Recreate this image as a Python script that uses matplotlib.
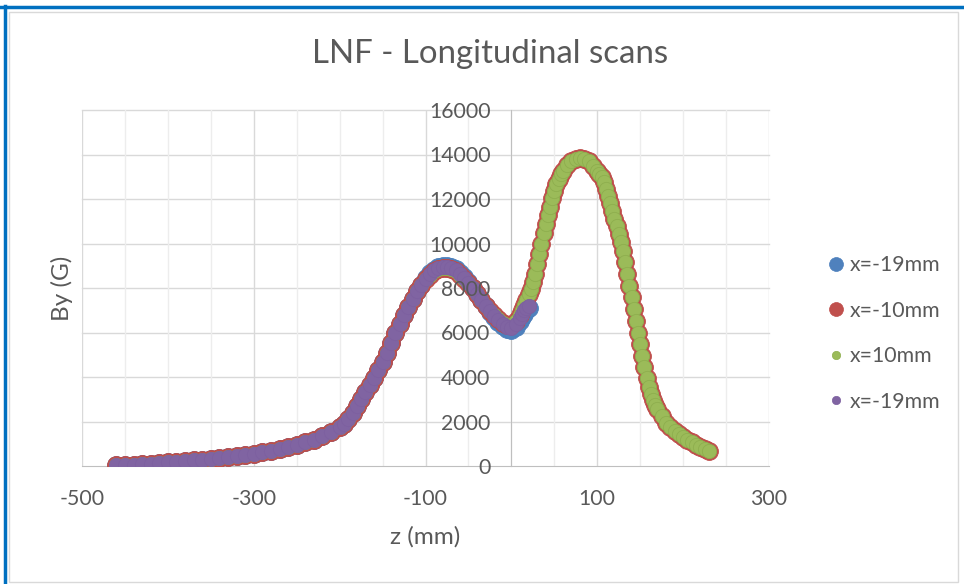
import matplotlib
matplotlib.use('Agg')
import matplotlib.pyplot as plt
from matplotlib.ticker import FixedLocator, MultipleLocator
from matplotlib.lines import Line2D

plt.rcParams['font.family'] = ['Lato', 'DejaVu Sans']
plt.rcParams['axes.unicode_minus'] = False

# scan positions (mm)
z_long = [-460, -450, -440, -430, -420, -410, -400, -390, -380, -370, -360, -350, -340, -330,
          -320, -310, -300, -290, -280, -270, -260, -250, -240, -230, -220, -210, -200,
          -195, -190, -185, -180, -175, -170, -165, -160, -155, -150, -145, -140, -135, -130,
          -125, -120, -115, -110, -105, -100, -95, -90, -85, -80, -75, -70, -65, -60, -55,
          -50, -45, -40, -35, -30, -25, -20, -15, -10, -5, 0, 5, 10,
          12.5, 15, 17.5, 20, 22.5, 25, 27.5, 30, 32.5, 35, 37.5, 40, 42.5, 45, 47.5, 50,
          52.5, 55, 57.5, 60,
          65, 70, 75, 80, 85, 90, 95, 100,
          102.5, 105, 107.5, 110, 112.5, 115, 117.5, 120, 122.5, 125, 127.5, 130, 132.5, 135,
          137.5, 140, 142.5, 145, 147.5, 150, 152.5, 155, 157.5, 160, 162.5, 165, 167.5, 170,
          175, 180, 185, 190, 195, 200, 205, 210, 215, 220, 225, 230]

z_short = [-460, -450, -440, -430, -420, -410, -400, -390, -380, -370, -360, -350, -340, -330,
           -320, -310, -300, -290, -280, -270, -260, -250, -240, -230, -220, -210, -200,
           -195, -190, -185, -180, -175, -170, -165, -160, -155, -150, -145, -140, -135, -130,
           -125, -120, -115, -110, -105, -100, -95, -90, -85, -80, -75, -70, -65, -60, -55,
           -50, -45, -40, -35, -30, -25, -20, -15, -10, -5, 0, 5, 10,
           12.5, 15, 17.5, 20]

# By (G)
by_xm10 = [30, 45, 60, 80, 100, 130, 165, 190, 220, 250, 280, 315, 350, 390,
           440, 490, 540, 610, 680, 760, 850, 940, 1060, 1190, 1350, 1540, 1770,
           1910, 2110, 2390, 2690, 3000, 3310, 3620, 3940, 4300, 4680, 5090, 5540, 6000, 6400,
           6780, 7150, 7500, 7860, 8150, 8400, 8600, 8760, 8860, 8920, 8920, 8860, 8760, 8600, 8420,
           8210, 8000, 7730, 7460, 7200, 6980, 6780, 6600, 6440, 6320, 6330, 6500, 6800,
           7000, 7220, 7470, 7720, 7950, 8250, 8650, 9080, 9540, 10000, 10450, 10880, 11280, 11660,
           12040, 12380, 12680, 12920, 13110, 13280,
           13540, 13720, 13820, 13850, 13820, 13700, 13500, 13250,
           13130, 13000, 12750, 12460, 12130, 11800, 11460, 11120, 10770, 10420, 10070, 9650,
           9180, 8650, 8110, 7580, 7050, 6520, 6000, 5480, 4960, 4430, 3950, 3560, 3240, 2980,
           2760, 2560,
           2230, 1950, 1740, 1570, 1440, 1320, 1190, 1070, 950, 850, 750, 660]

by_x10 = [30, 45, 60, 80, 100, 130, 165, 190, 220, 250, 280, 315, 350, 390,
          440, 490, 540, 610, 680, 760, 850, 940, 1060, 1190, 1350, 1540, 1770,
          1910, 2110, 2390, 2690, 3000, 3310, 3620, 3940, 4300, 4680, 5090, 5540, 6000, 6400,
          6780, 7150, 7500, 7860, 8150, 8400, 8600, 8760, 8860, 8920, 8920, 8860, 8760, 8600, 8420,
          8210, 8000, 7730, 7460, 7200, 6980, 6780, 6600, 6440, 6320, 6330, 6500, 6800,
          7000, 7220, 7470, 7720, 7950, 8250, 8650, 9080, 9540, 10000, 10450, 10880, 11280, 11660,
          12040, 12380, 12680, 12920, 13110, 13280,
          13540, 13720, 13820, 13850, 13820, 13700, 13500, 13250,
          13130, 13000, 12750, 12460, 12130, 11800, 11460, 11120, 10770, 10420, 10070, 9650,
          9180, 8650, 8110, 7580, 7050, 6520, 6000, 5480, 4960, 4430, 3950, 3560, 3240, 2980,
          2760, 2560,
          2230, 1950, 1740, 1570, 1440, 1320, 1190, 1070, 950, 850, 750, 660]

by_xm19_a = [30, 45, 60, 80, 100, 130, 165, 190, 220, 250, 280, 315, 350, 390,
             440, 490, 540, 610, 680, 760, 850, 940, 1060, 1190, 1350, 1540, 1770,
             1910, 2110, 2390, 2690, 3000, 3310, 3620, 3940, 4300, 4680, 5090, 5540, 6000, 6400,
             6780, 7150, 7500, 7860, 8150, 8450, 8660, 8830, 8940, 9000, 9000, 8940, 8840, 8680, 8480,
             8250, 8020, 7740, 7450, 7170, 6920, 6680, 6460, 6270, 6140, 6120, 6240, 6500,
             6680, 6850, 7000, 7100]

by_xm19_b = [30, 45, 60, 80, 100, 130, 165, 190, 220, 250, 280, 315, 350, 390,
             440, 490, 540, 610, 680, 760, 850, 940, 1060, 1190, 1350, 1540, 1770,
             1910, 2110, 2390, 2690, 3000, 3310, 3620, 3940, 4300, 4680, 5090, 5540, 6000, 6400,
             6780, 7150, 7500, 7860, 8150, 8420, 8620, 8790, 8890, 8950, 8950, 8890, 8790, 8630, 8440,
             8230, 8010, 7740, 7460, 7190, 6950, 6730, 6540, 6370, 6240, 6220, 6360, 6640,
             6830, 6990, 7100, 7180]

series_labels = ['x=-19mm', 'x=-10mm', 'x=10mm', 'x=-19mm']
series_colors = ['#4F81BD', '#C0504D', '#9BBB59', '#8064A2']
edge_colors = ['#4A7EBB', '#BE4B48', '#8EAE4E', '#7D60A0']

x_ticks = [-500, -300, -100, 100, 300]
y_ticks = [0, 2000, 4000, 6000, 8000, 10000, 12000, 14000, 16000]

txt = '#595959'

fig = plt.figure(figsize=(9.64, 5.84), dpi=100)
ax = fig.add_axes([82 / 964, 1 - 466 / 584, 687 / 964, 356 / 584])

ax.set_xlim(-500, 300)
ax.set_ylim(0, 16000)
ax.xaxis.set_major_locator(FixedLocator(x_ticks))
ax.xaxis.set_minor_locator(MultipleLocator(50))
ax.yaxis.set_major_locator(FixedLocator(y_ticks))
ax.set_axisbelow(True)
ax.grid(True, axis='x', which='major', color='#D9D9D9', lw=1.0)
ax.grid(True, axis='x', which='minor', color='#EDEDED', lw=1.0)
for yv in y_ticks[1:]:
    ax.axhline(yv, color='#D9D9D9', lw=1.0, zorder=0.5, clip_on=False)

for s in ['top', 'right']:
    ax.spines[s].set_visible(False)
ax.spines['left'].set_position(('data', 0))
ax.spines['left'].set_color('#BFBFBF')
ax.spines['bottom'].set_color('#BFBFBF')
ax.spines['left'].set_zorder(0.6)
ax.spines['bottom'].set_zorder(0.6)

ax.tick_params(axis='both', which='both', length=0, labelsize=15.3, labelcolor=txt)
ax.tick_params(axis='x', pad=16.5)
ax.tick_params(axis='y', pad=15)
ax.yaxis.set_zorder(6)

big, small = 165, 105
ax.scatter(z_short, by_xm19_a, s=big, color=series_colors[0], edgecolors=edge_colors[0],
           linewidths=0.6, zorder=2)
ax.scatter(z_long, by_xm10, s=big, color=series_colors[1], edgecolors=edge_colors[1],
           linewidths=0.6, zorder=3)
ax.scatter(z_long, by_x10, s=small, color=series_colors[2], edgecolors=edge_colors[2],
           linewidths=0.6, zorder=4)
ax.scatter(z_short, by_xm19_b, s=small, color=series_colors[3], edgecolors=edge_colors[3],
           linewidths=0.6, zorder=5)

leg_sizes = [10, 10, 6, 6]
handles = [Line2D([], [], marker='o', linestyle='None', markersize=ms, color=c,
                  markeredgecolor=ec, markeredgewidth=0.5)
           for ms, c, ec in zip(leg_sizes, series_colors, edge_colors)]
fig.legend(handles, series_labels, loc='center left', bbox_to_anchor=(825 / 964, 1 - 333.5 / 584),
           frameon=False, fontsize=15.3, labelcolor=txt, handletextpad=0.15,
           labelspacing=1.2, borderpad=0, borderaxespad=0, handlelength=1.0)

fig.text(490 / 964, 1 - 63 / 584, 'LNF - Longitudinal scans', ha='center', va='baseline',
         fontsize=23.8, color=txt)
fig.text(425 / 964, 1 - 537 / 584, 'z (mm)', ha='center', va='center', fontsize=17.5, color=txt)
fig.text(62 / 964, 1 - 288 / 584, 'By (G)', ha='center', va='center', rotation=90,
         fontsize=17.5, color=txt)

# chart frame
fig.add_artist(Line2D([0, 1], [1 - 7 / 584, 1 - 7 / 584], transform=fig.transFigure,
                      color='#0070C0', lw=2.5))
fig.add_artist(Line2D([4.5 / 964, 4.5 / 964], [0, 1 - 6 / 584], transform=fig.transFigure,
                      color='#0070C0', lw=2.5))
fig.add_artist(plt.Rectangle((9 / 964, 2 / 584), 949 / 964, 570 / 584, transform=fig.transFigure,
                             fill=False, edgecolor='#D9D9D9', lw=1.0))

fig.savefig('out.png', dpi=100)
